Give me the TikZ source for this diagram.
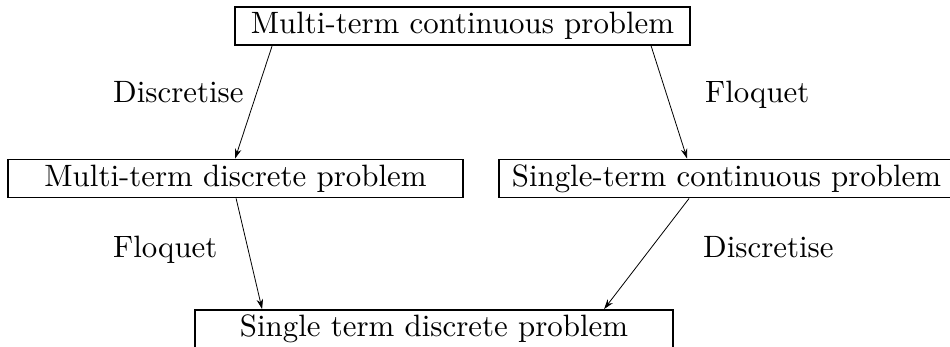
\documentclass[tikz,border=0pt]{standalone}
\usetikzlibrary{arrows.meta}
\newcommand{\bigtxt}[1]{\scalebox{3.088}{\fontsize{10}{12}\selectfont #1}}
\begin{document}
\begin{tikzpicture}[x=1pt,y=-1pt,
  box/.style={draw,line width=1.8pt,inner sep=0pt,minimum height=38pt},
  lbl/.style={inner sep=0pt,anchor=base west},
  arr/.style={line width=0.8pt,-{Stealth[length=10pt,width=6.5pt]}}]
\useasboundingbox (0,0) rectangle (950,347);
\clip (0,0) rectangle (950,347);
\node[box,minimum width=455pt] (top) at (462.5,26) {\bigtxt{Multi-term continuous problem}};
\node[box,minimum width=455pt] (ml) at (235.5,178.5) {\bigtxt{Multi-term discrete problem}};
\node[box,minimum width=455pt] (mr) at (726.5,178.5) {\bigtxt{Single-term continuous problem}};
\node[box,minimum width=478pt] (bot) at (434,329) {\bigtxt{Single term discrete problem}};
\draw[arr] ([xshift=38pt]top.south west) -- ([xshift=228pt]ml.north west);
\draw[arr] ([xshift=417pt]top.south west) -- ([xshift=189pt]mr.north west);
\draw[arr] ([xshift=229pt]ml.south west) -- ([xshift=68pt]bot.north west);
\draw[arr] ([xshift=191pt]mr.south west) -- ([xshift=410pt]bot.north west);
\node[lbl] (l1) at (113,103) {\bigtxt{Discretise}};
\node[lbl] (l2) at (705,103) {\bigtxt{Floquet}};
\node[lbl] (l3) at (113,258) {\bigtxt{Floquet}};
\node[lbl] (l4) at (703,258) {\bigtxt{Discretise}};
\end{tikzpicture}
\end{document}
